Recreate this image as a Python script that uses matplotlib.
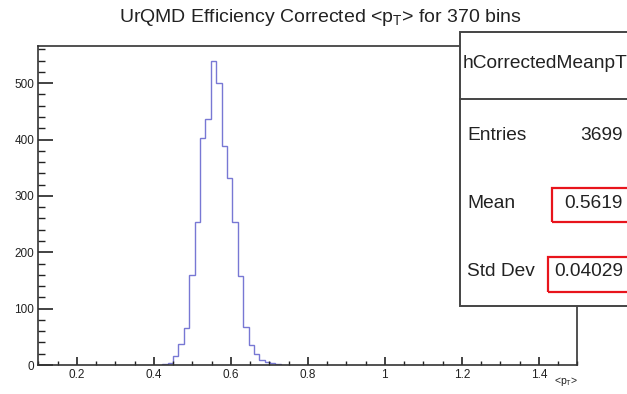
import matplotlib
matplotlib.use("Agg")
import matplotlib.pyplot as plt
from matplotlib.patches import Rectangle
from matplotlib.ticker import MultipleLocator

plt.rcParams["font.family"] = ["Liberation Sans", "DejaVu Sans"]
plt.rcParams["mathtext.fontset"] = "custom"
plt.rcParams["mathtext.rm"] = "Liberation Sans"
plt.rcParams["mathtext.it"] = "Liberation Sans"

# histogram: 100 bins over 0.1-1.5, only the filled ones listed
bin_width = 0.014
first_edge = 0.422
counts = [1, 4, 16, 37, 65, 160, 253, 402, 436, 540, 500,
          389, 331, 254, 158, 68, 36, 19, 9, 5, 3, 1]

hist_name = "hCorrectedMeanpT"
stat_names = ["Entries", "Mean", "Std Dev"]
stat_values = ["3699", "0.5619", "0.04029"]

W, H = 627, 394


def fx(x):
    return x / W


def fy(y):
    return 1 - y / H


edges = [first_edge + i * bin_width for i in range(len(counts) + 1)]

fig = plt.figure(figsize=(W / 100, H / 100), dpi=100)
ax = fig.add_axes([fx(38.3), fy(365), fx(577.3) - fx(38.3), fy(46) - fy(365)])

ax.stairs(counts, edges, color="#7878d4", linewidth=1.0, baseline=0)

ax.set_xlim(0.1, 1.5)
ax.set_ylim(0, 566)
ax.xaxis.set_major_locator(MultipleLocator(0.2))
ax.xaxis.set_minor_locator(MultipleLocator(0.05))
ax.yaxis.set_major_locator(MultipleLocator(100))
ax.yaxis.set_minor_locator(MultipleLocator(20))
ax.xaxis.set_major_formatter(plt.FuncFormatter(lambda v, p: f"{v:g}"))

ax.tick_params(axis="x", which="major", direction="in", length=6, width=1.2,
               labelsize=8.5, pad=3, color="#222222", labelcolor="#222222")
ax.tick_params(axis="x", which="minor", direction="in", length=3, width=1.0,
               color="#222222")
ax.tick_params(axis="y", which="major", direction="in", length=11, width=1.2,
               labelsize=8.5, pad=3, color="#222222", labelcolor="#222222")
ax.tick_params(axis="y", which="minor", direction="in", length=5, width=1.0,
               color="#222222")
for s in ax.spines.values():
    s.set_linewidth(1.2)
    s.set_color("#333333")

fig.text(fx(320), fy(18), r"UrQMD Efficiency Corrected <p$_{\mathrm{T}}$> for 370 bins",
         ha="center", va="center", fontsize=14, color="#222222")
fig.text(fx(566), fy(382), r"<p$_{\mathrm{T}}$>", ha="center", va="center",
         fontsize=7.5, color="#222222")

# stats box
box = Rectangle((fx(460), fy(306)), fx(700) - fx(460), fy(31.5) - fy(306),
                transform=fig.transFigure, facecolor="white",
                edgecolor="#444444", linewidth=1.4, zorder=5)
fig.add_artist(box)
fig.add_artist(plt.Line2D([fx(460), fx(627)], [fy(99), fy(99)],
                          transform=fig.transFigure, color="#444444",
                          linewidth=1.4, zorder=6))
fig.text(fx(463), fy(64), hist_name, ha="left", va="center", fontsize=13.8,
         color="#222222", zorder=7)

rows_y = [135, 204, 272]
for name, val, y in zip(stat_names, stat_values, rows_y):
    fig.text(fx(467), fy(y), name, ha="left", va="center", fontsize=13.8,
             color="#222222", zorder=7)
    fig.text(fx(623), fy(y), val, ha="right", va="center", fontsize=13.8,
             color="#222222", zorder=7)

# red highlight frames
for x0, y0, y1 in [(552, 187.5, 222), (547.5, 257, 291.5)]:
    fig.add_artist(Rectangle((fx(x0), fy(y1)), fx(640) - fx(x0), fy(y0) - fy(y1),
                             transform=fig.transFigure, facecolor="none",
                             edgecolor="#e8141c", linewidth=1.6, zorder=8))

fig.savefig("out.png", dpi=100)
